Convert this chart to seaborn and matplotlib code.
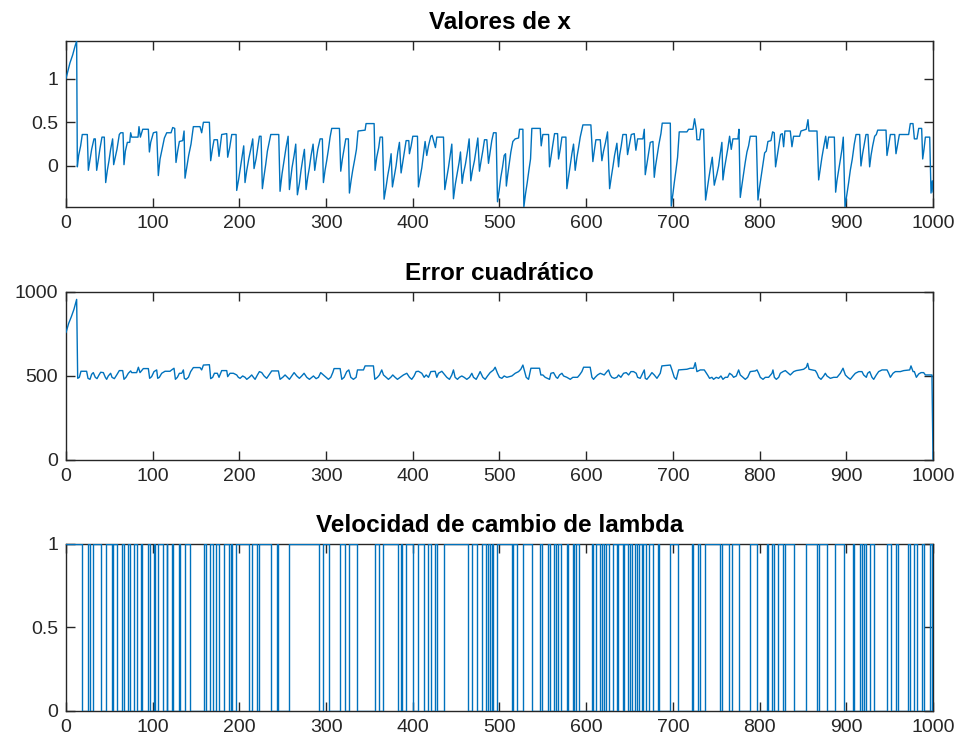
import numpy as np
import pandas as pd
import matplotlib
matplotlib.use("Agg")
import matplotlib.pyplot as plt
import seaborn as sns

# ---------------- data ----------------
x_step = [
    0, 4.6, 7.7, 10.4, 12.3, 13.1, 14.6, 16.9, 18.8, 24.6,
    25.8, 27.7, 29.6, 32.3, 33.8, 35.4, 37.3, 39.2, 41.5, 44.2,
    45.8, 47.7, 49.6, 51.5, 53.8, 55.0, 56.9, 58.8, 61.5, 63.1,
    65.8, 66.9, 68.5, 70.8, 73.5, 74.6, 75.8, 83.1, 84.2, 85.8,
    88.5, 95.0, 96.2, 97.7, 100.8, 104.6, 106.5, 108.5, 110.4, 113.5,
    116.2, 121.2, 123.1, 125.4, 126.9, 128.8, 130.8, 134.6, 136.2, 137.3,
    139.2, 141.5, 144.2, 146.9, 154.6, 156.5, 158.5, 165.4, 166.9, 168.8,
    170.8, 174.6, 176.5, 179.6, 185.4, 186.5, 188.8, 191.2, 196.2, 196.9,
    199.2, 201.2, 203.1, 205.0, 206.5, 208.5, 210.8, 213.1, 215.4, 216.9,
    219.2, 221.2, 223.1, 225.0, 226.5, 228.5, 230.4, 232.3, 236.2, 245.4,
    246.9, 249.2, 251.5, 253.8, 256.2, 257.7, 260.7, 263.1, 265.0, 266.9,
    269.2, 271.1, 273.1, 275.0, 276.9, 278.8, 280.7, 282.7, 285.0, 286.9,
    288.4, 290.4, 293.1, 295.7, 296.9, 298.8, 300.7, 302.7, 304.6, 306.5,
    315.4, 316.9, 318.8, 320.7, 322.7, 325.7, 326.9, 328.8, 330.7, 333.1,
    335.0, 336.9, 345.0, 346.1, 355.4, 356.5, 358.4, 360.7, 362.3, 365.0,
    366.9, 369.2, 371.1, 373.1, 375.0, 376.5, 378.8, 380.7, 382.7, 384.6,
    386.5, 388.4, 390.4, 392.3, 395.4, 396.1, 398.1, 400.0, 405.4, 406.5,
    408.4, 410.4, 412.3, 414.2, 416.1, 418.1, 420.8, 422.3, 426.1, 427.7,
    435.4, 436.9, 439.2, 441.1, 443.1, 445.0, 446.9, 449.2, 451.1, 453.4,
    455.0, 456.9, 458.4, 460.7, 463.1, 465.0, 466.9, 468.8, 471.1, 473.1,
    475.0, 476.9, 478.8, 480.7, 482.7, 485.4, 487.3, 489.2, 491.1, 493.1,
    496.1, 497.7, 499.6, 501.5, 503.4, 505.4, 507.0, 507.9, 509.5, 511.2,
    513.1, 515.4, 518.1, 522.0, 523.1, 527.0, 528.1, 530.0, 532.0, 533.9,
    535.8, 537.3, 547.0, 548.1, 550.0, 556.6, 557.7, 559.6, 561.6, 563.5,
    567.0, 568.1, 570.0, 572.0, 576.6, 577.7, 579.6, 581.6, 583.5, 585.4,
    587.3, 589.3, 591.2, 593.1, 596.2, 605.4, 607.7, 609.3, 611.2, 616.2,
    618.1, 620.0, 622.3, 624.6, 627.0, 628.9, 630.8, 632.7, 635.4, 637.3,
    638.5, 640.4, 642.3, 646.2, 647.7, 650.0, 652.0, 655.4, 657.3, 659.3,
    665.4, 667.0, 668.1, 670.0, 672.0, 673.9, 677.0, 678.5, 680.0, 682.0,
    683.9, 686.2, 687.7, 697.0, 698.1, 700.0, 701.6, 703.5, 705.4, 707.3,
    716.2, 718.1, 723.1, 725.0, 726.9, 727.7, 730.8, 732.3, 735.4, 737.7,
    739.6, 741.6, 743.5, 745.4, 747.7, 750.8, 752.7, 754.6, 756.5, 757.7,
    759.6, 761.6, 763.5, 765.4, 767.3, 769.2, 775.0, 776.2, 777.7, 779.6,
    781.5, 783.4, 785.4, 787.3, 789.2, 796.2, 798.1, 800.0, 801.9, 803.8,
    805.8, 807.7, 809.6, 813.1, 815.0, 816.9, 818.4, 820.4, 822.3, 824.2,
    826.2, 827.7, 829.2, 835.4, 837.3, 839.2, 846.1, 847.7, 853.8, 855.8,
    856.9, 866.2, 868.1, 870.0, 871.9, 873.8, 876.2, 877.7, 879.6, 886.2,
    887.7, 889.2, 891.2, 893.1, 895.0, 896.5, 898.5, 900.8, 902.7, 904.6,
    906.9, 909.2, 911.2, 915.4, 916.9, 918.8, 920.8, 922.7, 925.0, 926.9,
    928.5, 930.4, 932.7, 934.6, 936.2, 945.8, 946.9, 948.8, 950.8, 955.8,
    957.3, 959.2, 961.2, 971.9, 973.8, 976.9, 978.5, 981.5, 983.5, 986.9,
    988.1, 989.6, 991.2, 996.2, 997.7, 999.2, 1000,
]
x_value = [
    1.00, 1.18, 1.27, 1.37, 1.43, -0.01, 0.12, 0.23, 0.36, 0.36,
    -0.05, 0.07, 0.19, 0.31, 0.31, -0.05, 0.07, 0.20, 0.33, 0.33,
    -0.19, -0.05, 0.06, 0.19, 0.31, 0.015, 0.10, 0.19, 0.36, 0.38,
    0.38, 0.015, 0.17, 0.27, 0.27, 0.38, 0.33, 0.33, 0.45, 0.33,
    0.42, 0.42, 0.16, 0.27, 0.38, 0.39, -0.11, 0.08, 0.17, 0.32,
    0.38, 0.38, 0.44, 0.43, 0.04, 0.17, 0.28, 0.29, 0.40, -0.14,
    -0.02, 0.12, 0.25, 0.45, 0.45, 0.38, 0.50, 0.50, 0.06, 0.19,
    0.30, 0.30, 0.11, 0.36, 0.37, 0.10, 0.21, 0.36, 0.36, -0.28,
    -0.15, -0.02, 0.10, 0.23, -0.19, -0.05, 0.08, 0.19, 0.31, -0.03,
    0.08, 0.21, 0.34, 0.34, -0.26, -0.11, 0.02, 0.17, 0.36, 0.36,
    -0.29, -0.09, 0.06, 0.21, 0.34, -0.27, -0.02, 0.12, 0.25, -0.33,
    -0.20, -0.05, 0.08, 0.19, -0.27, -0.13, -0.02, 0.12, 0.25, -0.05,
    0.06, 0.19, 0.31, 0.31, -0.19, -0.05, 0.06, 0.19, 0.33, 0.43,
    0.43, -0.06, 0.08, 0.19, 0.31, 0.31, -0.31, -0.17, -0.05, 0.08,
    0.19, 0.40, 0.41, 0.485, 0.485, -0.05, 0.10, 0.21, 0.33, 0.33,
    -0.38, -0.24, -0.11, 0.00, 0.14, -0.24, -0.11, 0.00, 0.16, 0.27,
    -0.08, 0.04, 0.16, 0.29, 0.29, 0.14, 0.23, 0.34, 0.34, -0.24,
    -0.13, -0.02, 0.13, 0.28, 0.12, 0.23, 0.34, 0.35, 0.21, 0.33,
    0.33, -0.27, -0.13, -0.02, 0.12, 0.25, -0.375, -0.20, -0.09, 0.04,
    0.16, -0.20, -0.09, 0.02, 0.17, 0.31, -0.17, -0.05, 0.06, 0.19,
    0.32, -0.06, 0.06, 0.17, 0.30, 0.30, 0.03, 0.16, 0.29, 0.38,
    0.38, -0.41, -0.28, -0.13, -0.02, 0.12, 0.14, -0.23, -0.10, 0.02,
    0.16, 0.28, 0.31, 0.32, 0.42, 0.42, -0.47, -0.32, -0.19, -0.05,
    0.08, 0.43, 0.43, 0.23, 0.36, 0.36, -0.01, 0.12, 0.25, 0.37,
    0.37, 0.08, 0.19, 0.33, 0.33, -0.26, -0.13, 0.00, 0.14, 0.25,
    -0.05, 0.10, 0.21, 0.33, 0.47, 0.47, 0.05, 0.17, 0.30, 0.30,
    0.06, 0.17, 0.27, 0.39, -0.26, -0.13, -0.01, 0.12, 0.26, -0.01,
    0.12, 0.23, 0.36, 0.36, 0.13, 0.25, 0.36, 0.37, 0.18, 0.31,
    0.31, 0.42, -0.10, 0.02, 0.14, 0.27, 0.28, -0.13, 0.00, 0.13,
    0.25, 0.37, 0.49, 0.49, -0.46, -0.32, -0.19, -0.05, 0.10, 0.39,
    0.39, 0.42, 0.42, 0.54, 0.42, 0.30, 0.30, 0.42, 0.42, -0.39,
    -0.26, -0.13, -0.01, 0.10, -0.22, -0.09, 0.00, 0.14, 0.27, -0.16,
    -0.02, 0.10, 0.21, 0.34, 0.19, 0.31, 0.31, 0.42, -0.36, -0.22,
    -0.09, 0.04, 0.16, 0.23, 0.34, 0.34, -0.39, -0.24, -0.11, 0.02,
    0.15, 0.17, 0.28, 0.29, 0.39, 0.38, -0.01, 0.12, 0.25, 0.36,
    0.37, 0.22, 0.40, 0.40, 0.22, 0.34, 0.34, 0.40, 0.42, 0.53,
    0.40, 0.40, -0.16, -0.03, 0.10, 0.21, 0.34, 0.20, 0.33, 0.33,
    -0.30, -0.17, -0.05, 0.07, 0.19, 0.33, -0.47, -0.32, -0.19, -0.05,
    0.08, 0.25, 0.36, 0.36, 0.00, 0.14, 0.25, 0.36, 0.36, -0.01,
    0.12, 0.23, 0.34, 0.36, 0.41, 0.41, 0.12, 0.23, 0.36, 0.36,
    0.14, 0.25, 0.36, 0.36, 0.485, 0.485, 0.31, 0.31, 0.43, 0.43,
    0.08, 0.19, 0.33, 0.33, -0.31, -0.17, -0.30,
]

err_step = [
    0.0, 3.1, 6.2, 9.2, 12.3, 13.5, 15.4, 17.3, 23.8, 25.4,
    27.7, 29.6, 31.5, 33.8, 35.8, 38.1, 40.0, 43.1, 45.4, 46.9,
    48.8, 51.5, 53.1, 55.8, 58.5, 61.5, 65.4, 66.9, 69.2, 71.9,
    74.6, 75.8, 81.5, 83.5, 85.4, 89.2, 95.0, 96.5, 98.8, 101.5,
    104.6, 105.8, 107.7, 110.4, 114.2, 120.0, 121.9, 124.6, 126.2, 128.5,
    130.8, 133.5, 135.4, 136.5, 138.5, 141.2, 143.8, 146.9, 154.6, 156.5,
    158.5, 165.4, 166.9, 169.2, 171.2, 174.6, 176.5, 179.6, 185.4, 186.5,
    189.2, 193.1, 196.9, 198.8, 200.8, 203.8, 206.5, 208.5, 211.5, 214.2,
    216.2, 218.1, 220.8, 223.1, 225.8, 228.5, 231.5, 235.4, 237.3, 245.0,
    246.9, 250.0, 252.7, 255.4, 257.7, 260.4, 263.1, 266.2, 269.2, 271.9,
    274.6, 277.7, 280.8, 283.5, 285.4, 288.5, 291.2, 293.8, 296.9, 300.0,
    302.7, 305.4, 307.7, 309.2, 316.2, 318.1, 320.8, 323.8, 326.2, 328.5,
    331.5, 334.6, 336.2, 343.1, 345.0, 354.6, 356.2, 359.2, 361.5, 364.2,
    366.2, 369.2, 371.9, 374.6, 376.9, 379.6, 382.3, 385.4, 389.2, 393.1,
    396.2, 398.8, 401.5, 403.8, 406.5, 410.4, 413.1, 415.4, 418.1, 420.8,
    425.8, 427.7, 429.6, 433.5, 435.4, 439.2, 442.3, 445.0, 446.9, 448.8,
    451.5, 453.8, 456.5, 459.2, 462.3, 465.4, 468.1, 470.0, 473.1, 475.8,
    477.7, 480.8, 483.5, 486.2, 489.2, 493.1, 495.0, 497.7, 500.0, 502.7,
    505.4, 508.5, 514.3, 518.1, 522.0, 524.6, 527.0, 528.5, 530.8, 533.5,
    536.2, 546.2, 547.7, 550.0, 552.7, 557.7, 559.3, 562.3, 565.4, 567.0,
    569.3, 572.0, 573.9, 577.7, 581.6, 584.6, 587.3, 590.0, 592.3, 595.0,
    597.0, 604.6, 606.6, 608.5, 610.4, 613.1, 616.2, 620.8, 623.9, 625.8,
    627.7, 629.6, 632.3, 635.4, 637.3, 640.0, 643.1, 646.2, 648.9, 651.6,
    654.6, 657.7, 659.3, 662.3, 665.4, 667.0, 668.1, 670.0, 673.1, 675.8,
    678.5, 681.6, 685.4, 687.3, 697.0, 698.9, 701.6, 703.9, 706.6, 716.2,
    720.0, 723.9, 725.8, 727.7, 731.6, 736.2, 740.0, 742.3, 745.0, 746.9,
    750.0, 752.7, 755.4, 757.7, 760.4, 763.1, 765.4, 768.1, 770.0, 773.1,
    775.8, 777.7, 780.8, 783.5, 786.2, 789.2, 795.0, 797.0, 798.9, 800.8,
    803.9, 806.6, 810.4, 814.3, 815.4, 817.0, 819.3, 822.0, 823.9, 827.0,
    829.7, 832.3, 835.4, 839.3, 842.3, 847.0, 850.8, 853.9, 855.4, 857.0,
    860.4, 864.3, 866.2, 868.1, 870.8, 873.9, 875.8, 877.7, 881.6, 885.4,
    889.3, 893.1, 896.2, 898.9, 901.6, 904.6, 907.7, 910.4, 914.3, 918.1,
    920.0, 923.1, 924.6, 927.0, 929.6, 931.6, 934.6, 937.3, 941.2, 947.0,
    948.9, 950.8, 953.9, 956.6, 962.3, 966.2, 973.1, 974.6, 977.0, 978.5,
    980.8, 983.5, 986.2, 989.2, 991.2, 998.8, 1000,
]
err_value = [
    758, 813, 853, 897, 956, 486, 492, 528, 528, 486,
    480, 510, 520, 492, 484, 506, 522, 520, 492, 480,
    500, 516, 492, 484, 506, 532, 532, 480, 492, 516,
    530, 520, 520, 552, 520, 544, 544, 486, 496, 526,
    536, 486, 492, 516, 528, 528, 536, 546, 480, 492,
    516, 516, 536, 486, 480, 492, 526, 550, 550, 536,
    565, 567, 484, 492, 516, 516, 492, 532, 532, 496,
    516, 516, 506, 492, 486, 500, 492, 480, 492, 506,
    492, 480, 506, 526, 520, 500, 486, 516, 530, 530,
    480, 492, 506, 492, 480, 500, 520, 500, 486, 500,
    516, 492, 480, 492, 500, 484, 492, 520, 506, 492,
    480, 492, 520, 544, 544, 480, 492, 526, 536, 492,
    480, 492, 536, 536, 560, 560, 480, 492, 506, 536,
    506, 492, 480, 492, 506, 492, 480, 492, 506, 516,
    492, 480, 500, 526, 528, 516, 492, 506, 492, 526,
    528, 492, 516, 528, 516, 492, 480, 506, 536, 492,
    480, 492, 500, 492, 480, 492, 516, 492, 480, 506,
    526, 492, 480, 500, 520, 536, 552, 516, 492, 486,
    500, 492, 500, 516, 526, 540, 565, 536, 492, 480,
    546, 546, 506, 506, 492, 480, 516, 520, 492, 486,
    506, 516, 500, 492, 480, 492, 492, 492, 506, 526,
    552, 552, 492, 480, 492, 506, 516, 506, 526, 536,
    506, 492, 486, 492, 506, 492, 516, 520, 506, 526,
    526, 516, 492, 486, 520, 536, 486, 480, 500, 520,
    506, 486, 516, 560, 565, 536, 492, 480, 536, 540,
    546, 546, 579, 526, 536, 536, 506, 486, 492, 480,
    492, 486, 500, 480, 492, 492, 516, 506, 492, 500,
    536, 506, 492, 480, 492, 526, 530, 536, 516, 492,
    480, 492, 492, 516, 536, 492, 480, 492, 516, 526,
    532, 520, 506, 526, 532, 536, 540, 552, 575, 540,
    536, 532, 516, 492, 480, 500, 516, 500, 486, 492,
    492, 516, 546, 506, 492, 480, 500, 516, 526, 526,
    506, 492, 516, 526, 492, 480, 506, 526, 536, 536,
    516, 492, 516, 526, 526, 532, 536, 560, 526, 526,
    492, 512, 520, 520, 506, 506, 0,
]

lam_zero_start = [
    19, 28, 40, 53, 59, 67, 74, 81.5, 88, 97, 103, 112, 117, 124, 131, 143,
    161, 170, 176, 188, 191, 211, 220, 236, 245,
    292, 303.7, 321.8, 336, 361.4, 383.4, 388, 400, 413, 421, 427.6, 464,
    474.5, 484, 489, 493,
    514, 520, 537, 548.7, 558.3, 565.2, 570.6, 579.4, 586, 591.8, 608.3, 616,
    620.6, 626.8, 635.2, 642.1, 648.7, 652.5, 659, 664, 669, 676.8, 684.4,
    706.4, 723.7, 731.4,
    754.4, 765, 776.6, 796.6, 810, 816.6, 827.4, 839.7, 866.6, 877.4, 897.4,
    908.9, 917.8, 922.4, 932, 951.2, 960, 973.5, 981.2, 989.7, 998.5,
]
lam_zero_end = [
    25, 31.5, 46, 54, 65, 72, 79, 87, 95, 101, 106, 116, 122, 130, 137, 159,
    166.5, 173, 182, 190, 196, 215, 223, 243, 257,
    296, 316, 326, 356, 366, 386.8, 392, 406, 418, 425.6, 436, 468,
    480, 487, 491, 497,
    516, 526.8, 546.8, 556.4, 563, 568, 577.5, 584.4, 588, 606.4, 611.4, 618,
    623, 631.4, 637.1, 643.7, 650.6, 656.4, 661.4, 666, 672.9, 683.3, 696.8,
    721.8, 729.5, 737,
    756.3, 767.8, 788.9, 808.1, 813.9, 821.6, 829.3, 853.5, 868.9, 887, 907.4,
    915.8, 920.5, 927.4, 946.6, 957.4, 971.6, 978.1, 987, 996.6, 1000,
]

titles = ["Valores de x", "Error cuadrático", "Velocidad de cambio de lambda"]
x_ticks = [0, 100, 200, 300, 400, 500, 600, 700, 800, 900, 1000]
y_ticks_top = [0, 0.5, 1]
y_ticks_mid = [0, 500, 1000]
y_ticks_bot = [0, 0.5, 1]

assert len(x_step) == len(x_value)
assert len(err_step) == len(err_value)
assert len(lam_zero_start) == len(lam_zero_end)

# ---------------- build step path for lambda ----------------
lam_x = [0]
lam_y = [1]
for a, b in zip(lam_zero_start, lam_zero_end):
    lam_x += [a, a, b, b]
    lam_y += [1, 0, 0, 1]
if lam_x[-1] < 1000:
    lam_x.append(1000)
    lam_y.append(1)

df_x = pd.DataFrame({"k": x_step, "v": x_value})
df_e = pd.DataFrame({"k": err_step, "v": err_value})
df_l = pd.DataFrame({"k": lam_x, "v": lam_y})

# ---------------- style ----------------
sns.set_theme(style="ticks")
plt.rcParams["font.family"] = ["Liberation Sans", "DejaVu Sans"]
dark = "#262626"
line_color = "#0072BD"

fig = plt.figure(figsize=(9.59, 7.42), dpi=100)
fig.patch.set_facecolor("white")

positions = [
    [0.0688, 0.7210, 0.9041, 0.2237],
    [0.0688, 0.3801, 0.9041, 0.2264],
    [0.0688, 0.0418, 0.9041, 0.2251],
]
frames = [df_x, df_e, df_l]
yticks = [y_ticks_top, y_ticks_mid, y_ticks_bot]
ylims = [(min(x_value), max(x_value)), (0, 1000), (0, 1)]
ylabels_fmt = [["0", "0.5", "1"], ["0", "500", "1000"], ["0", "0.5", "1"]]

for i in range(3):
    ax = fig.add_axes(positions[i])
    sns.lineplot(data=frames[i], x="k", y="v", estimator=None, sort=False,
                 ax=ax, color=line_color, linewidth=1.0, zorder=3)
    ax.set_xlim(0, 1000)
    ax.set_ylim(*ylims[i])
    ax.set_xticks(x_ticks)
    ax.set_xticklabels([str(t) for t in x_ticks])
    ax.set_yticks(yticks[i])
    ax.set_yticklabels(ylabels_fmt[i])
    ax.set_xlabel("")
    ax.set_ylabel("")
    for s in ax.spines.values():
        s.set_visible(True)
        s.set_color(dark)
        s.set_linewidth(1.0)
    ax.tick_params(direction="in", top=True, right=True, length=6.3,
                   width=1.0, colors=dark, labelsize=14, pad=5.5)
    ax.tick_params(axis="x", pad=6)
    for lab in ax.get_xticklabels() + ax.get_yticklabels():
        lab.set_color(dark)
    ax.set_title(titles[i], fontsize=17.5, fontweight="bold", color="black",
                 pad=8.5)
    ax.set_facecolor("white")

fig.savefig("out.png", dpi=100, facecolor="white")
